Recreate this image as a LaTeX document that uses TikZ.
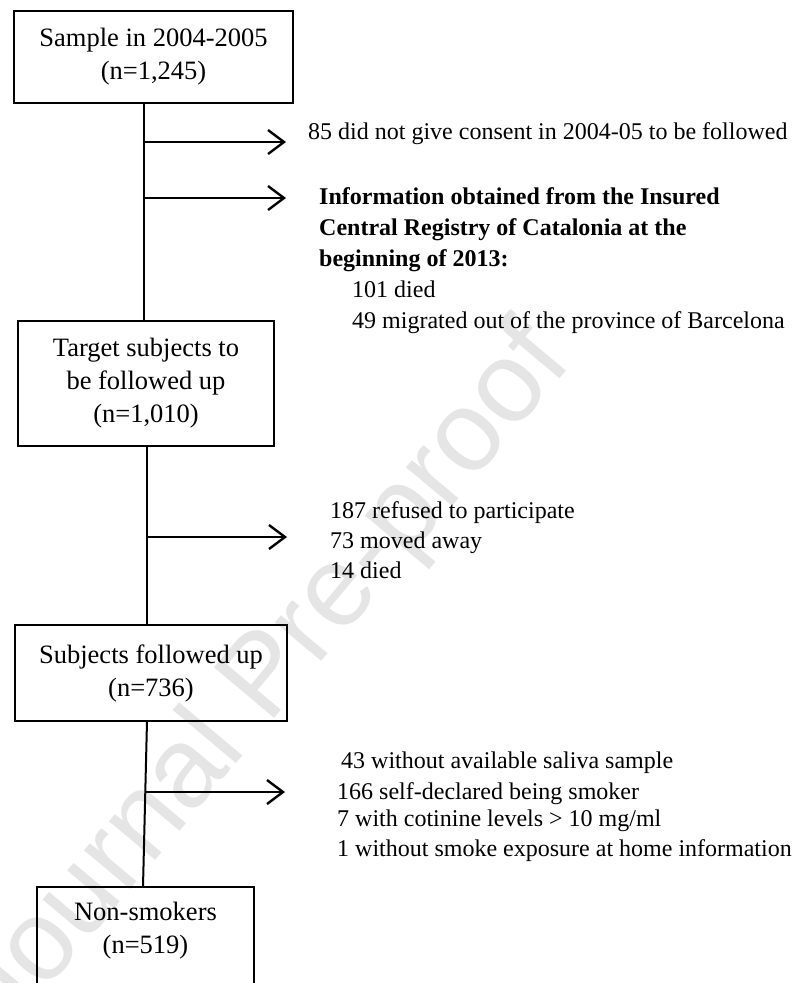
\documentclass[tikz,border=0pt]{standalone}
\usepackage{fontspec}
\setmainfont{Liberation Serif}
\newfontfamily\wmfont{Liberation Sans}
\usetikzlibrary{arrows.meta}
\begin{document}
\begin{tikzpicture}[x=1pt,y=-1pt,
  box/.style={draw=black, line width=2.6pt, inner sep=0pt, outer sep=0pt, align=center,
    font=\fontsize{26.5pt}{33pt}\selectfont},
  boxtext/.style={inner sep=0pt, align=center, font=\fontsize{26.5pt}{33pt}\selectfont},
  vline/.style={line width=2.8pt},
  sline/.style={line width=2pt},
  exarrow/.style={line width=2.2pt, -{Straight Barb[length=16pt,width=24pt,line width=2.4pt]}},
  side/.style={inner sep=0pt, anchor=base west, font=\fontsize{24pt}{30pt}\selectfont},
  sidebold/.style={side, font=\fontsize{24pt}{30pt}\selectfont\bfseries},
  wm/.style={inner sep=0pt, text=black!10, font=\wmfont\fontsize{114pt}{114pt}\selectfont}
]
\useasboundingbox (0,0) rectangle (797,983);
\fill[white] (0,0) rectangle (797,983);

% watermark
\node[wm, rotate=50] (wm) at (268,680) {Journal Pre-proof};

% boxes
\node[box, minimum width=279pt, minimum height=92pt] (b1) at (153.5,57) {Sample in 2004-2005\\(n=1,245)};
\node[box, minimum width=256pt, minimum height=125pt] (b2) at (146,383.5) {Target subjects to\\be followed up\\(n=1,010)};
\node[box, minimum width=272pt, minimum height=96pt] (b3) at (151,673) {Subjects followed up\\(n=736)};
\node[box, minimum width=217pt, minimum height=130pt, anchor=north] (b4) at (145.5,887) {};
\node[boxtext] (b4t) at (145.5,931) {Non-smokers\\(n=519)};

% trunk lines
\coordinate (j1) at (144,0);
\coordinate (j3) at (147,0);
\coordinate (j4) at (143,0);
\draw[vline] (b1.south -| j1) -- (b2.north -| j1);
\draw[vline] (b2.south -| j3) -- (b3.north -| j3);
\draw[sline] (b3.south -| j3) -- (b4.north -| j4);

% arrows
\coordinate (a1s) at (144,142);  \coordinate (a1e) at (286,142);
\coordinate (a2s) at (144,198);  \coordinate (a2e) at (286,198);
\coordinate (a3s) at (147,537);  \coordinate (a3e) at (287,537);
\coordinate (a4s) at (145.3,792); \coordinate (a4e) at (285,792);
\draw[exarrow] (a1s) -- (a1e);
\draw[exarrow] (a2s) -- (a2e);
\draw[exarrow] (a3s) -- (a3e);
\draw[exarrow] (a4s) -- (a4e);

% side texts
\node[side] (t1) at (308,139) {85 did not give consent in 2004-05 to be followed};

\node[sidebold] (t2a) at (319,204) {Information obtained from the Insured};
\node[sidebold] (t2b) at (319,235) {Central Registry of Catalonia at the};
\node[sidebold] (t2c) at (319,266) {beginning of 2013:};
\node[side] (t2d) at (352,297) {101 died};
\node[side] (t2e) at (352,328) {49 migrated out of the province of Barcelona};

\node[side] (t3a) at (330,518) {187 refused to participate};
\node[side] (t3b) at (330,548) {73 moved away};
\node[side] (t3c) at (330,578) {14 died};

\node[side] (t4a) at (341,768) {43 without available saliva sample};
\node[side] (t4b) at (337,799) {166 self-declared being smoker};
\node[side] (t4c) at (337,826) {7 with cotinine levels > 10 mg/ml};
\node[side] (t4d) at (337,856) {1 without smoke exposure at home information};
\end{tikzpicture}
\end{document}
